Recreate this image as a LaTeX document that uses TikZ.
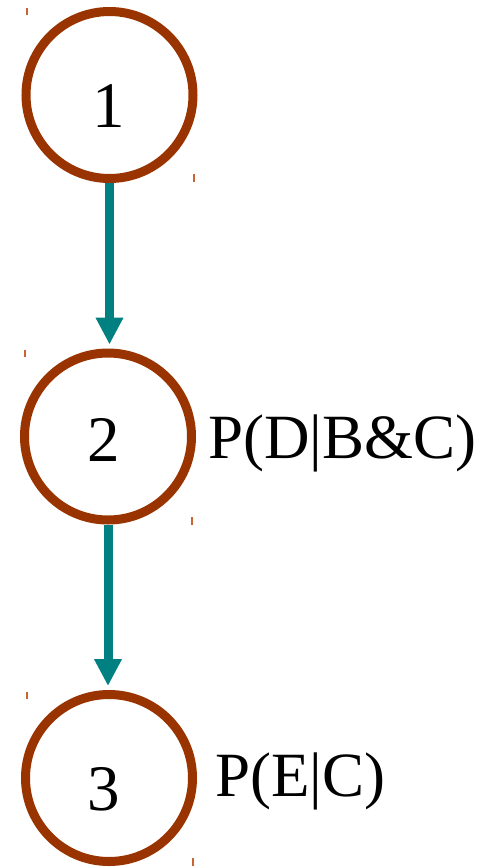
\documentclass[tikz,border=0pt]{standalone}
\usepackage{fontspec}
\setmainfont{Liberation Serif}
\usetikzlibrary{arrows.meta}
\definecolor{ring}{RGB}{153,51,0}
\definecolor{teal2}{RGB}{0,128,128}
\definecolor{tick}{RGB}{200,100,50}
\begin{document}
\begin{tikzpicture}[x=1pt,y=-1pt,
  ring/.style={circle,draw=ring,line width=9pt,minimum size=167pt,inner sep=0pt},
  digit/.style={inner sep=0pt,font=\fontsize{65}{70}\selectfont},
  prob/.style={inner sep=0pt,anchor=base west,font=\fontsize{63}{70}\selectfont},
  link/.style={draw=teal2,line width=9pt,-{Triangle[width=26pt,length=27pt]},shorten >=4pt},
  tickmark/.style={draw=tick,line width=1.5pt}]
\useasboundingbox (0,0) rectangle (493,868);
\node[ring] (c1) at (109.5,95) {};
\node[ring] (c2) at (108,436.5) {};
\node[ring] (c3) at (109,778) {};
\node[digit] (t1) at (108.5,106.5) {1};
\node[digit] (t2) at (104,439.5) {2};
\node[digit] (t3) at (104,789) {3};
\node[prob] (p2) at (208,458) {P(D|B\&C)};
\node[prob] (p3) at (215,796) {P(E|C)};
\draw[link] (c1.south) -- (c1.south |- c2.north);
\draw[link] (c2.south) -- (c2.south |- c3.north);
\draw[tickmark] (27,8) -- (27,15);
\draw[tickmark] (194,174) -- (194,182);
\draw[tickmark] (25,350) -- (25,357);
\draw[tickmark] (192,517) -- (192,525);
\draw[tickmark] (27,692) -- (27,699);
\draw[tickmark] (193,858) -- (193,866);
\end{tikzpicture}
\end{document}
